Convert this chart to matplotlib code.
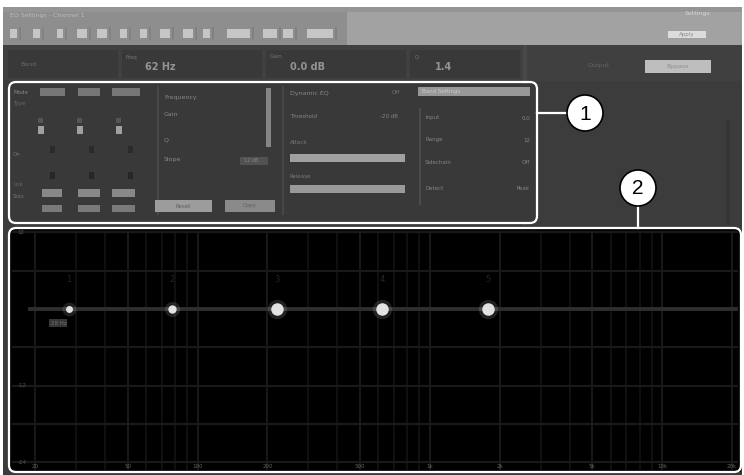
import numpy as np
import matplotlib
matplotlib.use("Agg")
import matplotlib.pyplot as plt
from matplotlib.patches import Rectangle, FancyBboxPatch, Circle

# ---------------------------------------------------------------------------
# EQ graph data
# ---------------------------------------------------------------------------
band_freqs = [28, 78, 220, 625, 1780]       # Hz
band_gains = [0.0, 0.0, 0.0, 0.0, 0.0]      # dB
band_sizes = [5, 6, 9, 9, 9]
freq_ticks = [20, 50, 100, 200, 500, 1000, 2000, 5000, 10000, 20000]
freq_labels = ["20", "50", "100", "200", "500", "1k", "2k", "5k", "10k", "20k"]
gain_grid = [12, 6, 0, -6, -12, -18, -24]
gain_labels = {12: "12", -12: "-12", -24: "-24"}

W, H = 744, 475
fig = plt.figure(figsize=(W / 100, H / 100), dpi=100, facecolor="white")

# full-figure axes in pixel coordinates for the window chrome
bg = fig.add_axes([0, 0, 1, 1])
bg.set_xlim(0, W)
bg.set_ylim(H, 0)
bg.axis("off")


def box(x0, y0, x1, y1, c, z=1):
    bg.add_patch(Rectangle((x0, y0), x1 - x0, y1 - y0, fc=c, ec="none", zorder=z))


def txt(x, y, s, c="#8a8a8a", fs=4.5, **kw):
    bg.text(x, y, s, color=c, fontsize=fs, va="center", ha=kw.pop("ha", "left"),
            zorder=5, **kw)


# window background
box(3, 7, 742, 475, "#3c3c3c", 0)

# title bar + toolbar
box(3, 7, 742, 45, "#8e8e8e")
box(347, 12, 742, 45, "#a2a2a2")
box(3, 7, 742, 12, "#959595")
txt(10, 15, "EQ Settings - Channel 1", c="#bcbcbc", fs=4.5)
txt(685, 14, "Settings", c="#d6d6d6", fs=4.5)
buttons = [(10, 17), (33, 40), (57, 63), (77, 87), (97, 107), (120, 127),
           (140, 147), (160, 170), (183, 193), (203, 210), (227, 250),
           (263, 277), (283, 293), (307, 333)]
for x0, x1 in buttons:
    box(x0, 29, x1, 38, "#c6c6c6", 2)
    box(x1 + 2, 27, x1 + 4, 40, "#828282", 2)
box(668, 31, 706, 38, "#dcdcdc", 2)
txt(687, 34.5, "Apply", c="#8a8a8a", fs=4, ha="center")

# readout row
box(3, 45, 742, 81, "#404040")
for x0, x1 in [(8, 118), (122, 262), (266, 406), (410, 520)]:
    box(x0, 50, x1, 78, "#393939", 2)
box(523, 45, 527, 225, "#484848", 2)
txt(20, 64, "Band", c="#6a6a6a", fs=4.5)
for x, lab, val in [(125, "Freq", "62 Hz"), (270, "Gain", "0.0 dB"), (415, "Q", "1.4")]:
    txt(x, 57, lab, c="#747474", fs=4)
    txt(x + 20, 67, val, c="#949494", fs=7, fontweight="bold")
txt(588, 66, "Output", c="#666666", fs=4.5)
box(645, 60, 711, 73, "#bebebe", 2)
txt(678, 66.5, "Bypass", c="#8c8c8c", fs=4.5, ha="center")

# ---------------------------------------------------------------------------
# panel 1: band controls
# ---------------------------------------------------------------------------
box(10, 84, 536, 222, "#393939", 2)
for x0, x1 in [(40, 65), (78, 100), (112, 140)]:
    box(x0, 88, x1, 96, "#777777", 3)
txt(13, 92, "Mode", c="#848484", fs=4)
txt(13, 104, "Type", c="#666666", fs=4)
for xk in [38, 77, 116]:
    box(xk, 118, xk + 5, 123, "#555555", 3)
    box(xk, 126, xk + 6, 134, "#a0a0a0", 3)
    box(xk + 12, 146, xk + 17, 153, "#2a2a2a", 3)
    box(xk + 12, 172, xk + 17, 179, "#262626", 3)
txt(13, 155, "On", c="#747474", fs=4)
txt(13, 185, "Lnk", c="#666666", fs=4)
txt(13, 196, "Solo", c="#747474", fs=4)
for x0, x1 in [(42, 62), (78, 100), (112, 135)]:
    box(x0, 189, x1, 197, "#888888", 3)
    box(x0, 205, x1, 212, "#7a7a7a", 3)

box(157, 86, 159, 215, "#474747", 3)
for y, s in [(97, "Frequency"), (115, "Gain"), (140, "Q"), (160, "Slope")]:
    txt(164, y, s, c="#888888", fs=4.5)
box(266, 88, 271, 147, "#858585", 3)
box(240, 157, 268, 165, "#525252", 3)
txt(244, 161, "12 dB", c="#868686", fs=3.5)
box(155, 200, 212, 212, "#9c9c9c", 3)
box(225, 200, 275, 212, "#8a8a8a", 3)
txt(183, 206, "Reset", c="#5e5e5e", fs=4, ha="center")
txt(250, 206, "Copy", c="#5e5e5e", fs=4, ha="center")

box(282, 86, 284, 215, "#474747", 3)
txt(290, 93, "Dynamic EQ", c="#868686", fs=4.5)
txt(392, 93, "Off", c="#747474", fs=4)
txt(290, 117, "Threshold", c="#848484", fs=4)
txt(380, 117, "-20 dB", c="#848484", fs=4)
txt(290, 143, "Attack", c="#787878", fs=4)
box(290, 154, 405, 162, "#a0a0a0", 3)
txt(290, 177, "Release", c="#787878", fs=4)
box(290, 185, 405, 193, "#9a9a9a", 3)

box(418, 87, 530, 96, "#989898", 3)
txt(422, 91.5, "Band Settings", c="#cacaca", fs=4)
box(419, 108, 421, 205, "#4c4c4c", 3)
for y, s, v in [(118, "Input", "0.0"), (140, "Range", "12"),
                (163, "Sidechain", "Off"), (188, "Detect", "Peak")]:
    txt(425, y, s, c="#848484", fs=4)
    txt(530, y, v, c="#848484", fs=4, ha="right")

# right side of the upper area
box(726, 120, 730, 225, "#353535", 2)

# ---------------------------------------------------------------------------
# panel 2: EQ graph
# ---------------------------------------------------------------------------
box(10, 229, 741, 472, "#050505", 2)

ax = fig.add_axes([12 / W, 1 - 470 / H, (738 - 12) / W, (470 - 231) / H])
ax.set_facecolor("black")
ax.set_xscale("log")
x_lo, x_hi = 15.9, 21200
ax.set_xlim(x_lo, x_hi)
ax.set_ylim(-25.2, 12.2)
for s in ax.spines.values():
    s.set_visible(False)
ax.set_xticks([])
ax.set_yticks([])
ax.minorticks_off()

for dec in [10, 100, 1000, 10000]:
    for m in range(1, 10):
        f = dec * m
        if x_lo < f < x_hi:
            ax.axvline(f, color="#1d1d1d" if m in (1, 2, 5) else "#131313",
                       lw=1.2, zorder=1)
for g in gain_grid:
    if g == 0:
        continue
    ax.axhline(g, color="#191919", lw=1.6, zorder=1)
ax.plot([19, x_hi * 0.98], [0, 0], color="#2e2e2e", lw=2.8, zorder=2)

for i, (f, g, ms) in enumerate(zip(band_freqs, band_gains, band_sizes)):
    ax.plot(f, g, "o", ms=ms + 5, color="#dcdcdc", alpha=0.15, mec="none", zorder=3)
    ax.plot(f, g, "o", ms=ms, color="#e2e2e2", mec="none", zorder=4)
    ax.text(f, 4.6, str(i + 1), color="#262626", fontsize=6, ha="center",
            va="center", zorder=3)
ax.text(band_freqs[0] * 0.9, -2.2, "28 Hz", color="#6e6e6e", fontsize=4,
        ha="center", va="center", zorder=4,
        bbox=dict(boxstyle="square,pad=0.2", fc="#363636", ec="none"))

for f, lab in zip(freq_ticks, freq_labels):
    ax.text(f, -24.7, lab, color="#626262", fontsize=4, ha="center",
            va="center", zorder=5)
for g, lab in gain_labels.items():
    ax.text(16.8, g, lab, color="#555555", fontsize=4, ha="left",
            va="center", zorder=5)

# ---------------------------------------------------------------------------
# callout frames and numbers
# ---------------------------------------------------------------------------
for (x0, y0, x1, y1) in [(9, 82, 537, 223), (9, 228, 741, 472)]:
    bg.add_patch(FancyBboxPatch((x0, y0), x1 - x0, y1 - y0,
                                boxstyle="round,pad=0,rounding_size=7",
                                fc="none", ec="white", lw=1.6, zorder=20))

bg.plot([537, 567], [113, 113], color="white", lw=1.6, zorder=20)
bg.plot([638, 638], [206, 228], color="white", lw=1.6, zorder=20)
for (cx, cy, n) in [(585, 113, "1"), (638, 188, "2")]:
    bg.add_patch(Circle((cx, cy), 18, fc="white", ec="black", lw=1.2, zorder=21))
    bg.text(cx, cy + 1, n, color="black", fontsize=15, ha="center", va="center",
            family="Liberation Sans", zorder=22)

fig.savefig("out.png", dpi=100, facecolor="white")
